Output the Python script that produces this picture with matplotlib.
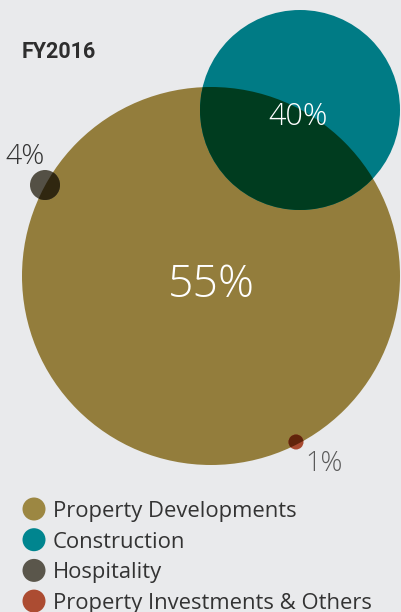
import matplotlib
matplotlib.use("Agg")
import matplotlib.pyplot as plt
from matplotlib.patches import Circle
from matplotlib.colors import to_rgb
import numpy as np

# segment revenue mix
year = "FY2016"
categories = ["Property Developments", "Construction", "Hospitality",
              "Property Investments & Others"]
shares = [55, 40, 4, 1]

colors = ["#937d3c", "#007b85", "#545045", "#a84a30"]
legend_colors = ["#9c8742", "#00858f", "#5a564b", "#ac4c32"]

# bubble layout in pixel units (x, y, radius)
bubbles = [(211, 276, 189), (300, 110, 100), (45, 185, 15), (296, 442, 7.5)]

plt.rcParams["font.family"] = ["Open Sans", "DejaVu Sans"]

W, H = 401, 612
fig = plt.figure(figsize=(W / 100, H / 100), dpi=100)
fig.patch.set_facecolor("#e9eaec")
ax = fig.add_axes([0, 0, 1, 1])
ax.set_xlim(0, W)
ax.set_ylim(H, 0)
ax.set_aspect("equal")
ax.axis("off")

patches = []
for (x, y, r), c in zip(bubbles, colors):
    p = Circle((x, y), r, facecolor=c, edgecolor="none")
    ax.add_patch(p)
    patches.append(p)

# darker overlaps where smaller bubbles cross the big one (multiply blend)
base = np.array(to_rgb(colors[0]))
for i in (1, 2, 3):
    x, y, r = bubbles[i]
    mixed = base * np.array(to_rgb(colors[i]))
    ov = Circle((x, y), r, facecolor=mixed, edgecolor="none", zorder=3)
    ax.add_patch(ov)
    ov.set_clip_path(patches[0])

ax.text(22, 58, year, fontsize=15.5, fontweight="bold", color="#2e2e2e",
        family=["Roboto", "DejaVu Sans"])

ax.text(211, 297, f"{shares[0]}%", fontsize=32, fontweight="light",
        color="white", ha="center", zorder=5)
ax.text(298, 125, f"{shares[1]}%", fontsize=22, fontweight="light",
        color="white", ha="center", zorder=5)
ax.text(5, 164, f"{shares[2]}%", fontsize=20.5, fontweight="light",
        color="#333333", zorder=5)
ax.text(305, 471, f"{shares[3]}%", fontsize=19.5, fontweight="light",
        color="#5a5a5a", zorder=5)

# legend
for i, (name, c) in enumerate(zip(categories, legend_colors)):
    cy = 509 + i * 30.7
    ax.add_patch(Circle((34, cy), 11.5, facecolor=c, edgecolor="none"))
    ax.text(53, cy + 8, name, fontsize=15.8, color="#333333")

fig.savefig("out.png", dpi=100, facecolor=fig.get_facecolor())
